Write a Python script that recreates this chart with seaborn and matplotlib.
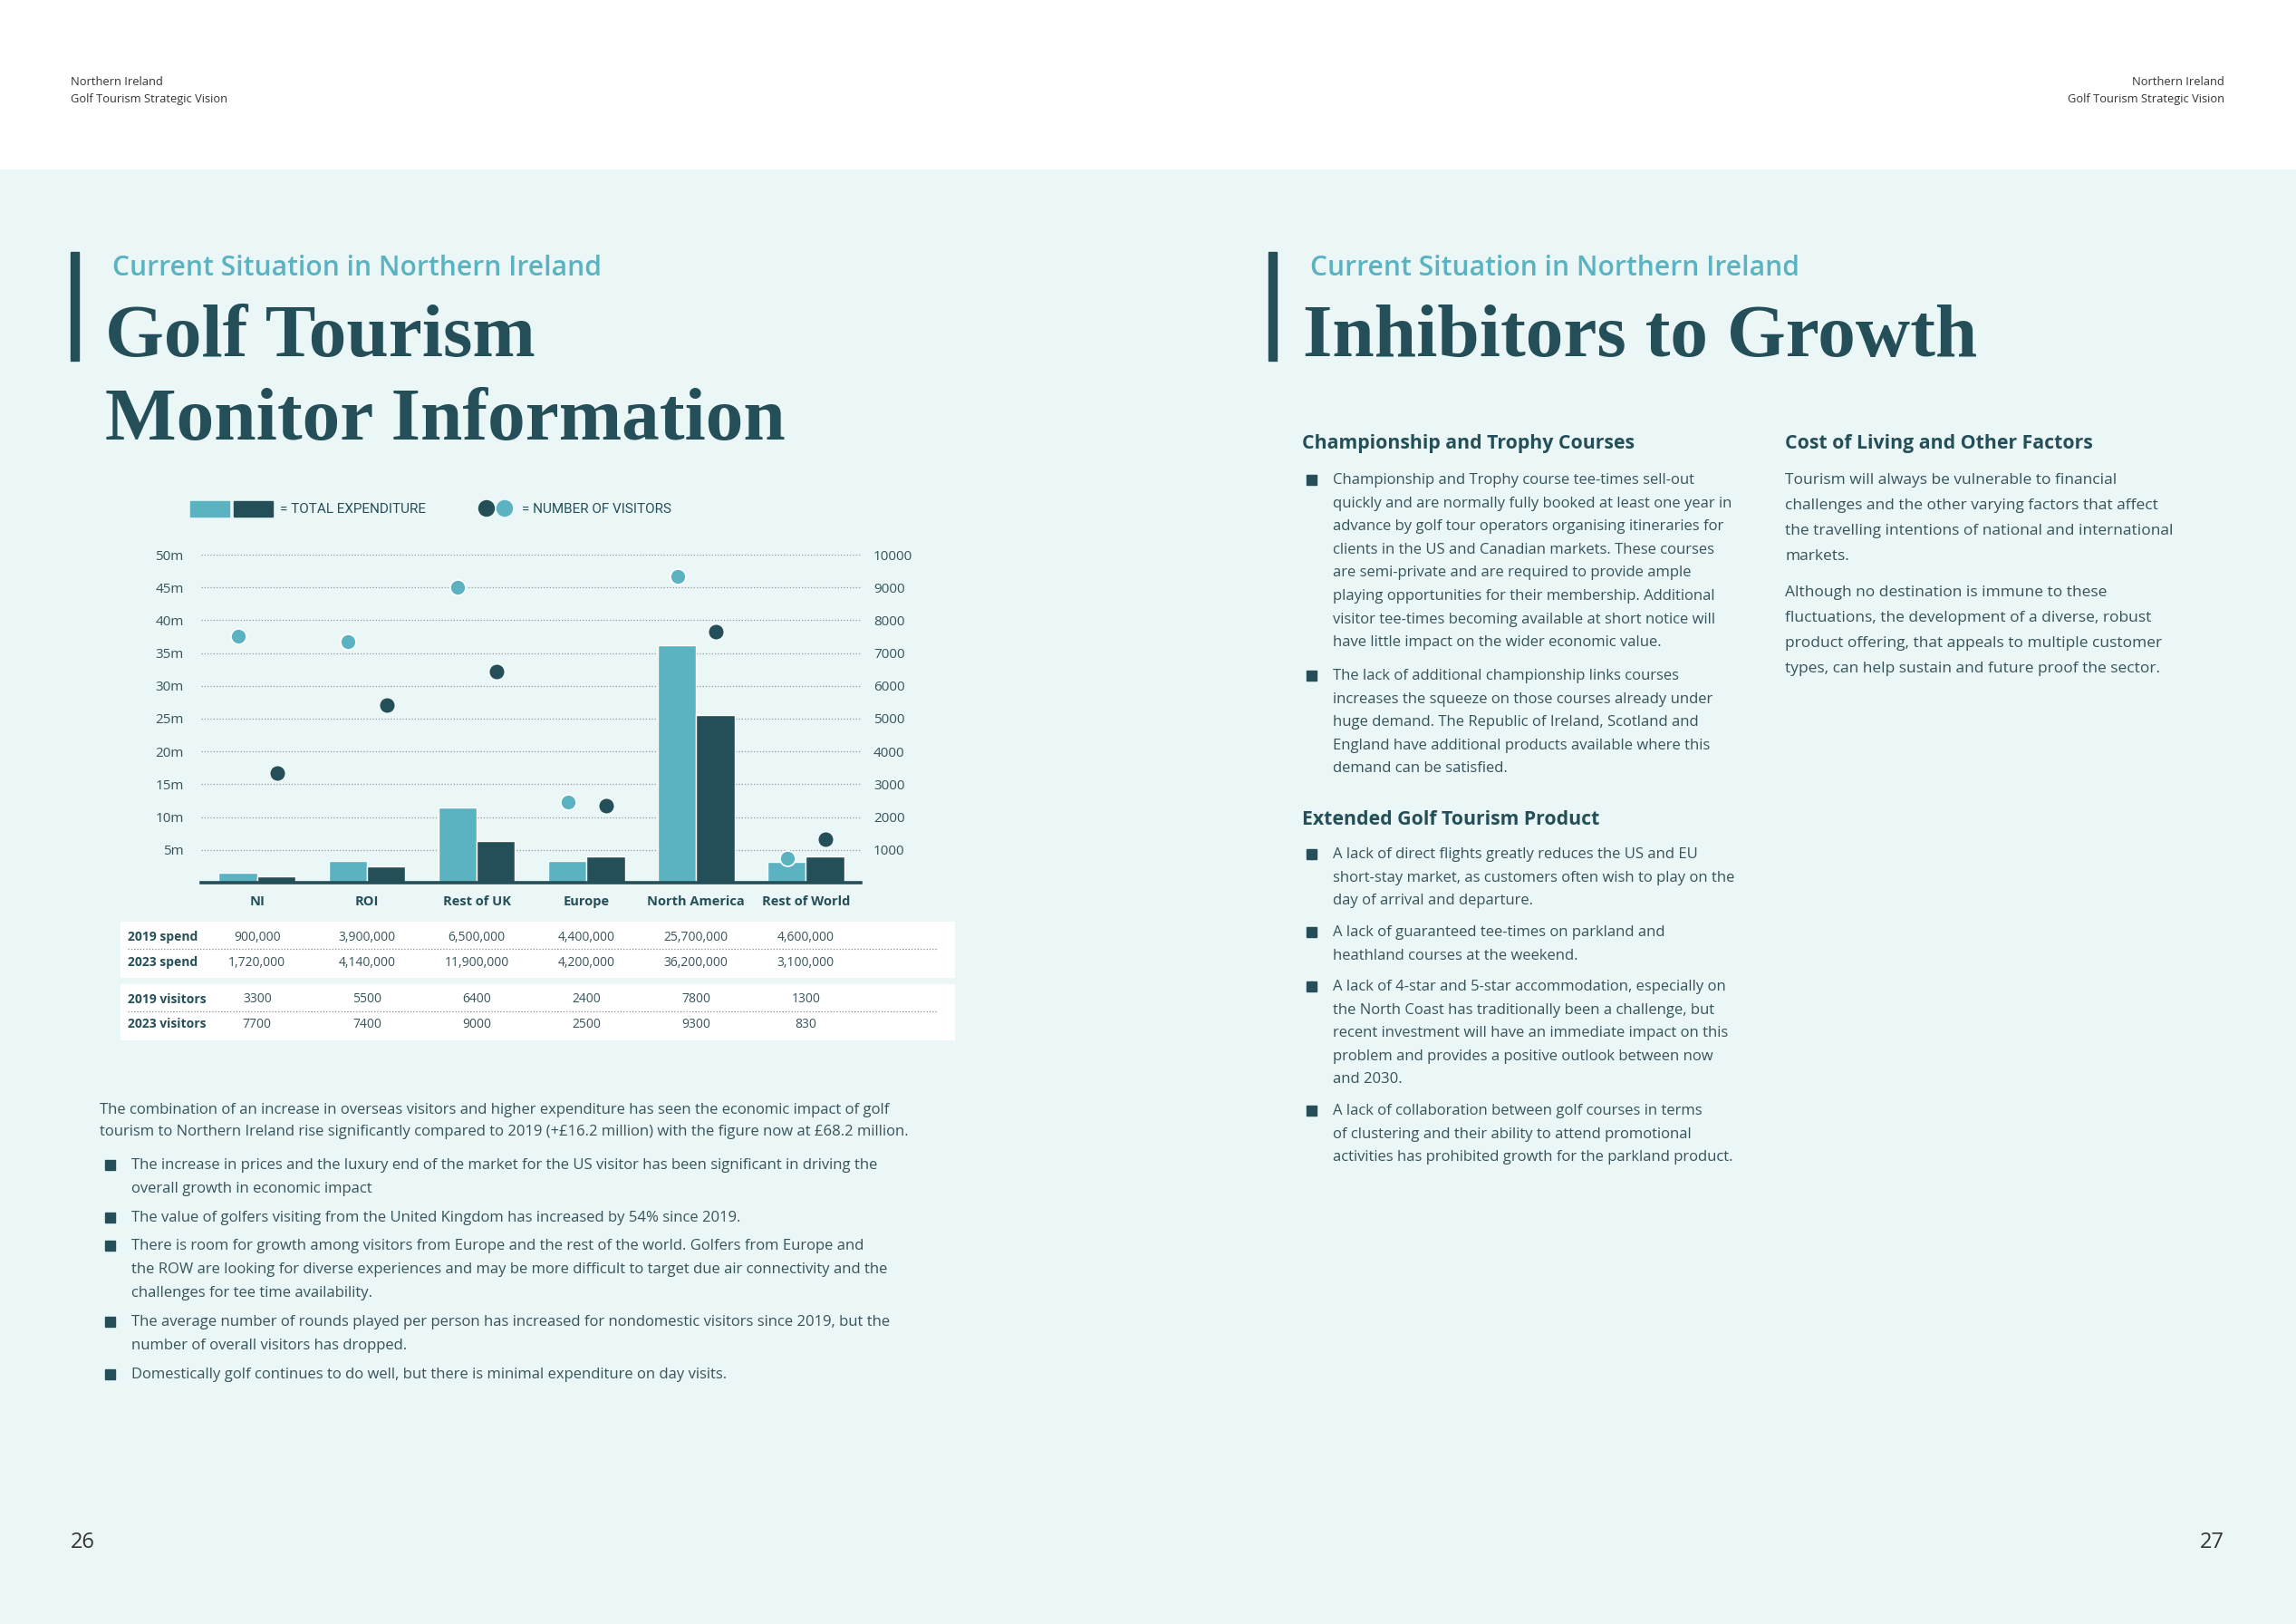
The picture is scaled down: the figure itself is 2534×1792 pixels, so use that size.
import numpy as np
import pandas as pd
import seaborn as sns
import matplotlib.pyplot as plt
from matplotlib.patches import Rectangle

sns.set_theme(style='white')
plt.rcParams['font.family'] = ['Open Sans', 'DejaVu Sans']

W, H = 2534, 1792
LIGHT = '#5bb3c1'
DARK = '#254f58'
BG = '#ebf6f7'
TXT = '#37545a'

# chart data
regions = ['NI', 'ROI', 'Rest of UK', 'Europe', 'North America', 'Rest of World']
spend_2023 = [1.5, 3.35, 11.5, 3.35, 36.2, 3.2]      # light bars, £m
spend_2019 = [1.0, 2.5, 6.4, 4.05, 25.6, 4.05]       # dark bars, £m
visitors_2023 = [7500, 7350, 9000, 2450, 9350, 740]  # light dots
visitors_2019 = [3340, 5420, 6430, 2340, 7640, 1330] # dark dots

# table under the chart
spend19_lbl = ['900,000', '3,900,000', '6,500,000', '4,400,000', '25,700,000', '4,600,000']
spend23_lbl = ['1,720,000', '4,140,000', '11,900,000', '4,200,000', '36,200,000', '3,100,000']
vis19_lbl = ['3300', '5500', '6400', '2400', '7800', '1300']
vis23_lbl = ['7700', '7400', '9000', '2500', '9300', '830']

left_tick_lbl = ['5m', '10m', '15m', '20m', '25m', '30m', '35m', '40m', '45m', '50m']
right_tick_lbl = ['1000', '2000', '3000', '4000', '5000', '6000', '7000', '8000', '9000', '10000']

fig = plt.figure(figsize=(W / 100, H / 100), dpi=100)
fig.patch.set_facecolor('white')

# page layer in pixel coordinates
pg = fig.add_axes([0, 0, 1, 1])
pg.set_xlim(0, W)
pg.set_ylim(H, 0)
pg.axis('off')
pg.add_patch(Rectangle((0, 187), W, H - 187, color=BG, zorder=0))


def put(x, y, s, **kw):
    kw.setdefault('color', TXT)
    kw.setdefault('va', 'center')
    pg.text(x, y, s, **kw)


# running headers and page numbers
put(78, 91, 'Northern Ireland', fontsize=9.3, color='#333333')
put(78, 109, 'Golf Tourism Strategic Vision', fontsize=9.3, color='#333333')
put(2455, 91, 'Northern Ireland', fontsize=9.3, color='#333333', ha='right')
put(2455, 109, 'Golf Tourism Strategic Vision', fontsize=9.3, color='#333333', ha='right')
put(78, 1702, '26', fontsize=17, color='#333333')
put(2455, 1702, '27', fontsize=17, color='#333333', ha='right')

# titles
for bx in (78, 1400):
    pg.add_patch(Rectangle((bx, 278), 9, 120, color=DARK, zorder=2))
sub = dict(fontsize=21.6, color=LIGHT, fontweight='semibold')
put(124, 296, 'Current Situation in Northern Ireland', **sub)
put(1446, 296, 'Current Situation in Northern Ireland', **sub)
serif = dict(fontsize=60, color=DARK, fontweight='bold', family='Liberation Serif', va='baseline')
put(116, 393, 'Golf Tourism', **serif)
put(116, 485, 'Monitor Information', **serif)
put(1438, 393, 'Inhibitors to Growth', **serif)

# left body text
put(110, 1225, 'The combination of an increase in overseas visitors and higher expenditure has seen the economic impact of golf', fontsize=12)
put(110, 1249, 'tourism to Northern Ireland rise significantly compared to 2019 (+£16.2 million) with the figure now at £68.2 million.', fontsize=12)
left_bullets = [
    (1286, ['The increase in prices and the luxury end of the market for the US visitor has been significant in driving the',
            'overall growth in economic impact']),
    (1344, ['The value of golfers visiting from the United Kingdom has increased by 54% since 2019.']),
    (1375, ['There is room for growth among visitors from Europe and the rest of the world. Golfers from Europe and',
            'the ROW are looking for diverse experiences and may be more difficult to target due air connectivity and the',
            'challenges for tee time availability.']),
    (1459, ['The average number of rounds played per person has increased for nondomestic visitors since 2019, but the',
            'number of overall visitors has dropped.']),
    (1517, ['Domestically golf continues to do well, but there is minimal expenditure on day visits.']),
]
for y0, lines in left_bullets:
    pg.add_patch(Rectangle((116, y0 - 6), 11, 11, color=DARK))
    for i, ln in enumerate(lines):
        put(145, y0 + i * 26, ln, fontsize=12)

# right columns
head = dict(fontsize=15.3, color=DARK, fontweight='bold')
put(1437, 489, 'Championship and Trophy Courses', **head)
put(1437, 905, 'Extended Golf Tourism Product', **head)
put(1970, 489, 'Cost of Living and Other Factors', **head)

right_bullets = [
    (530, ['Championship and Trophy course tee-times sell-out',
           'quickly and are normally fully booked at least one year in',
           'advance by golf tour operators organising itineraries for',
           'clients in the US and Canadian markets. These courses',
           'are semi-private and are required to provide ample',
           'playing opportunities for their membership. Additional',
           'visitor tee-times becoming available at short notice will',
           'have little impact on the wider economic value.']),
    (746, ['The lack of additional championship links courses',
           'increases the squeeze on those courses already under',
           'huge demand. The Republic of Ireland, Scotland and',
           'England have additional products available where this',
           'demand can be satisfied.']),
    (943, ['A lack of direct flights greatly reduces the US and EU',
           'short-stay market, as customers often wish to play on the',
           'day of arrival and departure.']),
    (1029, ['A lack of guaranteed tee-times on parkland and',
            'heathland courses at the weekend.']),
    (1089, ['A lack of 4-star and 5-star accommodation, especially on',
            'the North Coast has traditionally been a challenge, but',
            'recent investment will have an immediate impact on this',
            'problem and provides a positive outlook between now',
            'and 2030.']),
    (1226, ['A lack of collaboration between golf courses in terms',
            'of clustering and their ability to attend promotional',
            'activities has prohibited growth for the parkland product.']),
]
for y0, lines in right_bullets:
    pg.add_patch(Rectangle((1442, y0 - 6), 11, 11, color=DARK))
    for i, ln in enumerate(lines):
        put(1471, y0 + i * 25.6, ln, fontsize=12)

col3 = [(530, ['Tourism will always be vulnerable to financial',
               'challenges and the other varying factors that affect',
               'the travelling intentions of national and international',
               'markets.']),
        (654, ['Although no destination is immune to these',
               'fluctuations, the development of a diverse, robust',
               'product offering, that appeals to multiple customer',
               'types, can help sustain and future proof the sector.'])]
for y0, lines in col3:
    for i, ln in enumerate(lines):
        put(1970, y0 + i * 28, ln, fontsize=12.5)

# legend
pg.add_patch(Rectangle((210, 553), 43, 17, color=LIGHT))
pg.add_patch(Rectangle((258, 553), 43, 17, color=DARK))
put(309, 562, '= TOTAL EXPENDITURE', fontsize=11, color=DARK, family='Roboto')
pg.scatter([537, 557], [561, 561], s=150, c=[DARK, LIGHT], zorder=3)
put(576, 562, '= NUMBER OF VISITORS', fontsize=11, color=DARK, family='Roboto')

# table boxes
pg.add_patch(Rectangle((133, 1017), 920, 61, color='white'))
pg.add_patch(Rectangle((133, 1086), 920, 61, color='white'))
pg.plot([141, 1034], [1047, 1047], ls=':', lw=0.9, color='#888888')
pg.plot([141, 1034], [1116, 1116], ls=':', lw=0.9, color='#888888')
row_lbl = dict(fontsize=10, color=DARK, fontweight='bold')
put(141, 1034, '2019 spend', **row_lbl)
put(141, 1062, '2023 spend', **row_lbl)
put(141, 1103, '2019 visitors', **row_lbl)
put(141, 1130, '2023 visitors', **row_lbl)

# chart
ax = fig.add_axes([222 / W, 1 - 974 / H, (950 - 222) / W, (974 - 612) / H])
ax.set_facecolor('none')
df = pd.DataFrame({
    'region': regions * 2,
    'year': ['2023'] * 6 + ['2019'] * 6,
    'spend': spend_2023 + spend_2019,
})
sns.barplot(data=df, x='region', y='spend', hue='year', hue_order=['2023', '2019'],
            palette=[LIGHT, DARK], width=0.7, gap=0, saturation=1, errorbar=None,
            legend=False, ax=ax, zorder=2)
ax.set_xlim(-0.51, 5.5)
ax.set_ylim(0, 50)
ax.set_yticks(np.arange(5, 55, 5))
ax.set_yticklabels(left_tick_lbl)
ax.grid(axis='y', ls=':', lw=0.9, color='#8a9a9e', zorder=0)
ax.set_axisbelow(True)
for s in ['top', 'left', 'right']:
    ax.spines[s].set_visible(False)
ax.spines['bottom'].set_color(DARK)
ax.spines['bottom'].set_linewidth(2.6)
ax.spines['bottom'].set_zorder(4)
ax.set_xlabel('')
ax.set_ylabel('')
ax.tick_params(axis='y', length=0, pad=14, labelsize=11, labelcolor=TXT)
ax.tick_params(axis='x', length=0, pad=10, labelsize=10.5, labelcolor=DARK)
for t in ax.get_xticklabels():
    t.set_fontweight('bold')

ax2 = ax.twinx()
ax2.set_ylim(0, 10000)
ax2.set_yticks(np.arange(1000, 11000, 1000))
ax2.set_yticklabels(right_tick_lbl)
ax2.tick_params(axis='y', length=0, pad=10, labelsize=11, labelcolor=TXT)
for s in ax2.spines.values():
    s.set_visible(False)
xpos = np.arange(len(regions))
ax2.scatter(xpos - 0.17, visitors_2023, s=150, color=LIGHT, edgecolor='white', linewidth=1.2, zorder=5)
ax2.scatter(xpos + 0.18, visitors_2019, s=150, color=DARK, edgecolor='white', linewidth=0.6, zorder=5)

# table values at the category positions
def xpix(i):
    return pg.transData.inverted().transform(ax.transData.transform((i, 0)))[0]

for i in range(len(regions)):
    xc = xpix(i)
    put(xc, 1034, spend19_lbl[i], fontsize=10, ha='center')
    put(xc, 1062, spend23_lbl[i], fontsize=10, ha='center')
    put(xc, 1103, vis19_lbl[i], fontsize=10, ha='center')
    put(xc, 1130, vis23_lbl[i], fontsize=10, ha='center')

fig.savefig('out.png', dpi=100, facecolor=fig.get_facecolor())
